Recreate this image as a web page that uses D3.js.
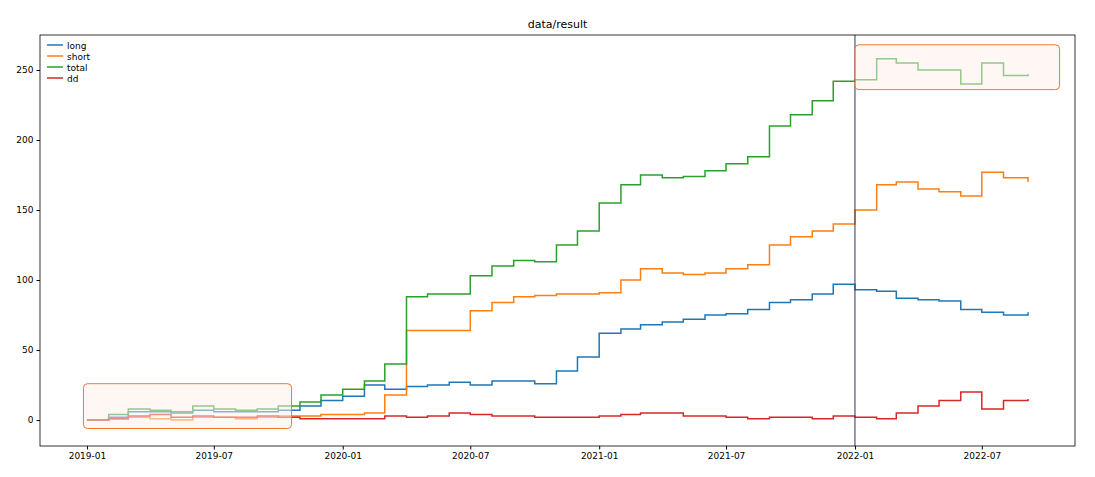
<!DOCTYPE html>
<html><head><meta charset="utf-8">
<script src="https://cdn.jsdelivr.net/npm/d3@7"></script>
<style>body{margin:0;background:#fff;font-family:"DejaVu Sans",sans-serif;}</style>
</head><body>
<script>
var dates = ["2019-01-01","2019-02-01","2019-03-01","2019-04-01","2019-05-01","2019-06-01","2019-07-01","2019-08-01","2019-09-01","2019-10-01","2019-11-01","2019-12-01",
  "2020-01-01","2020-02-01","2020-03-01","2020-04-01","2020-05-01","2020-06-01","2020-07-01","2020-08-01","2020-09-01","2020-10-01","2020-11-01","2020-12-01",
  "2021-01-01","2021-02-01","2021-03-01","2021-04-01","2021-05-01","2021-06-01","2021-07-01","2021-08-01","2021-09-01","2021-10-01","2021-11-01","2021-12-01",
  "2022-01-01","2022-02-01","2022-03-01","2022-04-01","2022-05-01","2022-06-01","2022-07-01","2022-08-01","2022-09-05"];
var longS  = [0,2,6,6,5,7,6,6,6,7,10,14,17,25,22,24,25,27,25,28,28,26,35,45,62,65,68,70,72,75,76,79,84,86,90,97,93,92,87,86,85,79,77,75,77];
var shortS = [0,1,2,1,0,2,2,1,2,3,3,4,4,5,18,64,64,64,78,84,88,89,90,90,91,100,108,105,104,105,108,111,125,131,135,140,150,168,170,165,163,160,177,173,170];
var totalS = [0,4,8,7,6,10,8,7,8,10,13,18,22,28,40,88,90,90,103,110,114,113,125,135,155,168,175,173,174,178,183,188,210,218,228,242,243,258,255,250,250,240,255,246,247];
var ddS    = [0,1,3,4,2,3,2,2,3,2,1,1,1,1,3,2,3,5,4,3,3,2,2,2,3,4,5,5,3,3,2,1,2,2,1,3,2,1,5,10,14,20,8,14,15];
var seriesNames = ["long","short","total","dd"];
var colors = ["#1f77b4","#ff7f0e","#2ca02c","#d62728"];
var yTicks = [0,50,100,150,200,250];
var xTicks = ["2019-01-01","2019-07-01","2020-01-01","2020-07-01","2021-01-01","2021-07-01","2022-01-01","2022-07-01"];
var boxes = [{x0:"2018-12-27",x1:"2019-10-20",y0:-6,y1:26},{x0:"2022-01-01",x1:"2022-10-20",y0:236,y1:268}];
var vline = "2022-01-01";

var W=1095,H=477,m={l:40,r:20,t:35,b:31};
var parse=d3.timeParse("%Y-%m-%d");
var svg=d3.select("body").append("svg").attr("width",W).attr("height",H);
var x=d3.scaleTime().domain([parse("2018-10-26"),parse("2022-11-11")]).range([m.l,W-m.r]);
var y=d3.scaleLinear().domain([-18.5,275]).range([H-m.b,m.t]);

svg.append("text").attr("x",(m.l+W-m.r)/2).attr("y",28).attr("text-anchor","middle").attr("font-size",11).text("data/result");

var all=[longS,shortS,totalS,ddS];
var line=d3.line().curve(d3.curveStepAfter).x(function(d,i){return x(parse(dates[i]));}).y(function(d){return y(d);});
all.forEach(function(s,k){
  svg.append("path").datum(s).attr("d",line).attr("fill","none").attr("stroke",colors[k]).attr("stroke-width",1.5);
});
svg.append("line").attr("x1",x(parse(vline))).attr("x2",x(parse(vline))).attr("y1",m.t).attr("y2",H-m.b).attr("stroke","#333355").attr("stroke-width",1);
boxes.forEach(function(b){
  svg.append("rect").attr("x",x(parse(b.x0))).attr("y",y(b.y1)).attr("width",x(parse(b.x1))-x(parse(b.x0))).attr("height",y(b.y0)-y(b.y1))
    .attr("rx",4).attr("fill","#fdf0ea").attr("fill-opacity",0.5).attr("stroke","#f07830").attr("stroke-width",1);
});

var ax=svg.append("g").attr("transform","translate(0,"+(H-m.b)+")")
  .call(d3.axisBottom(x).tickValues(xTicks.map(parse)).tickFormat(d3.timeFormat("%Y-%m")).tickSizeOuter(0).tickSize(3.5));
var ay=svg.append("g").attr("transform","translate("+m.l+",0)").call(d3.axisLeft(y).tickValues(yTicks).tickSizeOuter(0).tickSize(3.5));
[ax,ay].forEach(function(a){a.select(".domain").remove();a.selectAll("text").attr("font-size",9).attr("font-family","DejaVu Sans").attr("fill","#000");});
svg.append("rect").attr("x",m.l).attr("y",m.t).attr("width",W-m.l-m.r).attr("height",H-m.t-m.b).attr("fill","none").attr("stroke","#000").attr("stroke-width",0.8);

var lg=svg.append("g");
seriesNames.forEach(function(n,k){
  var yy=45+k*11;
  lg.append("line").attr("x1",47).attr("x2",63).attr("y1",yy).attr("y2",yy).attr("stroke",colors[k]).attr("stroke-width",1.5);
  lg.append("text").attr("x",67).attr("y",yy+3.5).attr("font-size",9).text(n);
});
</script>
</body></html>
